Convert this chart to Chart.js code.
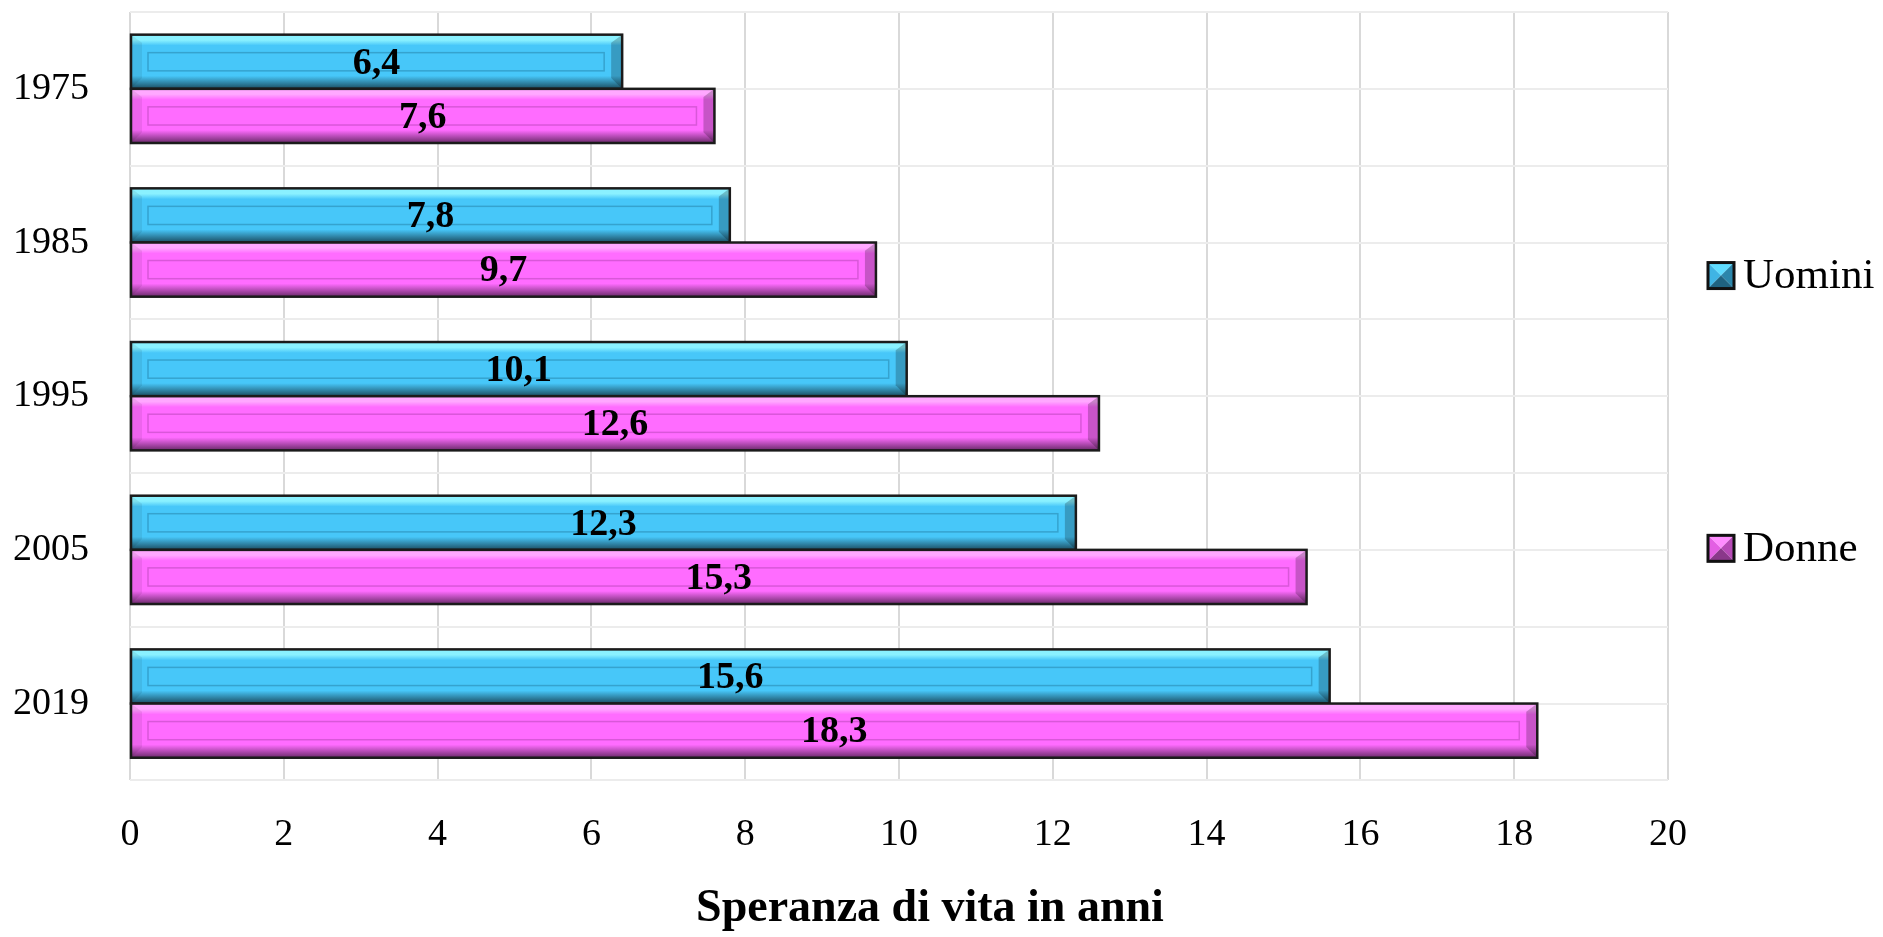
<!DOCTYPE html>
<html lang="it">
<head>
<meta charset="UTF-8">
<title>Speranza di vita</title>
<script src="https://cdn.jsdelivr.net/npm/chart.js@4.4.1/dist/chart.umd.min.js"></script>
<style>
    html, body { margin: 0; padding: 0; background: #fff; }
    #wrap { width: 1883px; height: 937px; }
</style>
</head>
<body>
<div id="wrap"><canvas id="chart"></canvas></div>
<script>
// ========================================
// Dati
// ========================================

const anni = ['1975', '1985', '1995', '2005', '2019'];
const uomini = [6.4, 7.8, 10.1, 12.3, 15.6];
const donne = [7.6, 9.7, 12.6, 15.3, 18.3];
const nomiSerie = ['Uomini', 'Donne'];
const xMin = 0;
const xMax = 20;
const xStep = 2;
const titoloAsse = 'Speranza di vita in anni';

// colori delle barre (effetto rilievo)
const palette = [
    { base: '#47c7f9', light: '#8af1ff', dark: '#1b4c60', line: '#35a3cf', icon: ['#5fdcff', '#3fb4e4', '#2b86ab', '#1f6381'] },
    { base: '#ff6cff', light: '#ffa8ff', dark: '#6a2a6a', line: '#d957d9', icon: ['#ff8cff', '#e35fe3', '#b64ab6', '#8a388a'] }
];

const FONT = '"Liberation Serif", "Times New Roman", serif';
const TITOLO_H = 79;   // spazio riservato al titolo dell'asse x

// ========================================
// Disegno barre con rilievo + etichette
// ========================================

function poly(ctx, pts, fill) {
    ctx.beginPath();
    ctx.moveTo(pts[0][0], pts[0][1]);
    for (let k = 1; k < pts.length; k++) ctx.lineTo(pts[k][0], pts[k][1]);
    ctx.closePath();
    ctx.fillStyle = fill;
    ctx.fill();
}

function drawBevelBar(ctx, l, t, r, b, pal) {
    const h = b - t;
    const dt = h * 0.15;
    const db = h * 0.2;
    const ds = 11;
    ctx.save();
    const g = ctx.createLinearGradient(0, t, 0, b);
    g.addColorStop(0, pal.light);
    g.addColorStop(0.1, pal.light);
    g.addColorStop(0.2, pal.base);
    g.addColorStop(0.76, pal.base);
    g.addColorStop(1, pal.dark);
    ctx.fillStyle = g;
    ctx.fillRect(l, t, r - l, h);
    // lati
    poly(ctx, [[l, t], [l + ds, t + dt], [l + ds, b - db], [l, b]], 'rgba(0,0,0,0.07)');
    poly(ctx, [[r, t], [r - ds, t + dt], [r - ds, b - db], [r, b]], 'rgba(0,0,0,0.22)');
    // rettangolo interno
    ctx.strokeStyle = pal.line;
    ctx.lineWidth = 1.5;
    ctx.strokeRect(l + 17, t + 18, r - l - 35, h - 36);
    // bordo
    ctx.strokeStyle = '#1b1b1b';
    ctx.lineWidth = 2.5;
    ctx.strokeRect(l, t, r - l, h);
    ctx.restore();
}

function formatta(v) {
    return v.toFixed(1).replace('.', ',');
}

const bevelPlugin = {
    id: 'bevel',
    afterDatasetsDraw(chart) {
        const ctx = chart.ctx;
        chart.data.datasets.forEach((ds, i) => {
            const meta = chart.getDatasetMeta(i);
            meta.data.forEach((bar, j) => {
                const p = bar.getProps(['x', 'y', 'base', 'height'], true);
                const l = Math.min(p.base, p.x);
                const r = Math.max(p.base, p.x);
                const t = p.y - p.height / 2;
                const b = p.y + p.height / 2;
                drawBevelBar(ctx, l, t, r, b, palette[i]);

                ctx.save();
                ctx.font = 'bold 38px ' + FONT;
                ctx.fillStyle = '#000';
                ctx.textAlign = 'center';
                ctx.textBaseline = 'middle';
                ctx.fillText(formatta(ds.data[j]), (l + r) / 2, p.y + 2);
                ctx.restore();
            });
        });
    },
    afterDraw(chart) {
        const ctx = chart.ctx;
        const area = chart.chartArea;

        // titolo dell'asse x (leggermente spostato a destra come nell'originale)
        ctx.save();
        ctx.font = 'bold 46px ' + FONT;
        ctx.fillStyle = '#000';
        ctx.textAlign = 'center';
        ctx.textBaseline = 'middle';
        ctx.fillText(titoloAsse, (area.left + area.right) / 2 + 31, chart.height - TITOLO_H + 51);
        ctx.restore();

        // legenda a destra
        const pos = [0.343, 0.698];
        const s = 26;
        chart.data.datasets.forEach((ds, i) => {
            const x = area.right + 40;
            const cy = area.top + area.height * pos[i];
            const y = cy - s / 2;
            const c = palette[i].icon;
            const mx = x + s / 2, my = y + s / 2;
            ctx.save();
            poly(ctx, [[x, y], [x + s, y], [mx, my]], c[0]);
            poly(ctx, [[x, y], [mx, my], [x, y + s]], c[1]);
            poly(ctx, [[x + s, y], [x + s, y + s], [mx, my]], c[2]);
            poly(ctx, [[x, y + s], [mx, my], [x + s, y + s]], c[3]);
            ctx.strokeStyle = '#111';
            ctx.lineWidth = 3;
            ctx.strokeRect(x, y, s, s);
            ctx.font = '43px ' + FONT;
            ctx.fillStyle = '#000';
            ctx.textAlign = 'left';
            ctx.textBaseline = 'middle';
            ctx.fillText(ds.label, x + s + 9, cy + 1);
            ctx.restore();
        });
    }
};

// le etichette non devono spostare l'area del grafico;
// Chart.js riserva il padding dei tick due volte, ne togliamo uno
function fitAsse(scale) {
    scale.paddingTop = 0;
    scale.paddingBottom = 0;
    scale.paddingLeft = 0;
    scale.paddingRight = 0;
    const pad = scale.options.ticks.display ? scale.options.ticks.padding : 0;
    if (scale.isHorizontal()) {
        scale.height -= pad;
    } else {
        scale.width -= pad;
    }
}

// ========================================
// Grafico
// ========================================

window.addEventListener('DOMContentLoaded', () => {
    const ctx = document.getElementById('chart').getContext('2d');

    new Chart(ctx, {
        type: 'bar',
        data: {
            labels: anni,
            datasets: [
                { label: nomiSerie[0], data: uomini, backgroundColor: palette[0].base, borderWidth: 0 },
                { label: nomiSerie[1], data: donne, backgroundColor: palette[1].base, borderWidth: 0 }
            ]
        },
        options: {
            indexAxis: 'y',
            responsive: true,
            maintainAspectRatio: false,
            animation: false,
            layout: {
                padding: { left: 13, right: 215, top: 12, bottom: TITOLO_H }
            },
            datasets: {
                bar: { categoryPercentage: 0.705, barPercentage: 1 }
            },
            plugins: {
                legend: { display: false },
                tooltip: { enabled: false }
            },
            scales: {
                x: {
                    min: xMin,
                    max: xMax,
                    afterFit: fitAsse,
                    ticks: {
                        stepSize: xStep,
                        color: '#000',
                        padding: 32,
                        font: { family: FONT, size: 38 }
                    },
                    grid: { color: '#d9d9d9', lineWidth: 2, drawTicks: false },
                    border: { display: false }
                },
                y: {
                    offset: true,
                    afterFit: fitAsse,
                    ticks: {
                        color: '#000',
                        padding: 41,
                        font: { family: FONT, size: 38 }
                    },
                    grid: { offset: true, color: '#ececec', lineWidth: 2, drawTicks: false },
                    border: { display: false }
                },
                y2: {
                    type: 'category',
                    position: 'left',
                    offset: true,
                    afterFit: fitAsse,
                    ticks: { display: false },
                    grid: { offset: false, color: '#ececec', lineWidth: 2, drawTicks: false },
                    border: { display: false }
                }
            }
        },
        plugins: [bevelPlugin]
    });
});
</script>
</body>
</html>
